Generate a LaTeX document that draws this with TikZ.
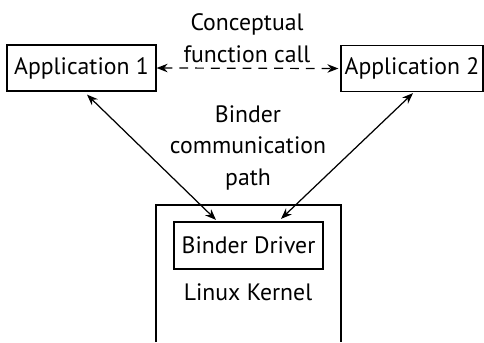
\documentclass[tikz,border=0pt]{standalone}
\usepackage{fontspec}
\setmainfont{PT Sans}
\usetikzlibrary{calc,arrows.meta}
\tikzset{
	appbox/.style={draw, line width=0.7pt, minimum height=0.92cm, inner sep=0pt},
	lbl/.style={align=center, anchor=base},
	link/.style={line width=0.7pt, {Stealth[length=2.2mm,width=1.7mm]}-{Stealth[length=2.2mm,width=1.7mm]}}
}

\begin{document}
\begin{tikzpicture}[x=0.02cm, y=-0.02cm, font=\fontsize{13.5}{17.9}\selectfont]
				\useasboundingbox (0,0) rectangle (484,342);
				
				\node[appbox, minimum width=2.98cm] (app1) at (81.5,68) {Application 1};
				\node[appbox, minimum width=2.84cm] (app2) at (412,68.5) {Application 2};
				\node[lbl] (call) at (247,62) {Conceptual\\function call};
				\draw[link, dash pattern=on 5pt off 4pt] (app1.east) -- ($(app2.west)+(-2,0)$);
				
				\draw[line width=0.7pt] (156,342) -- (156,205) -- (341,205) -- (341,342);
				\node[appbox, minimum width=2.98cm, minimum height=0.94cm] (driver) at (248.5,245.5) {Binder Driver};
				\node[lbl] (kernel) at (248,300) {Linux Kernel};
				
				\node[lbl] (path) at (248,185) {Binder\\communication\\path};
				\draw[link] ($(app1.south)+(5.5,3)$) -- ($(driver.north)+(-32.5,-1.5)$);
				\draw[link] ($(app2.south)+(1,1)$) -- ($(driver.north)+(32.5,-2.5)$);
			\end{tikzpicture}
\end{document}
